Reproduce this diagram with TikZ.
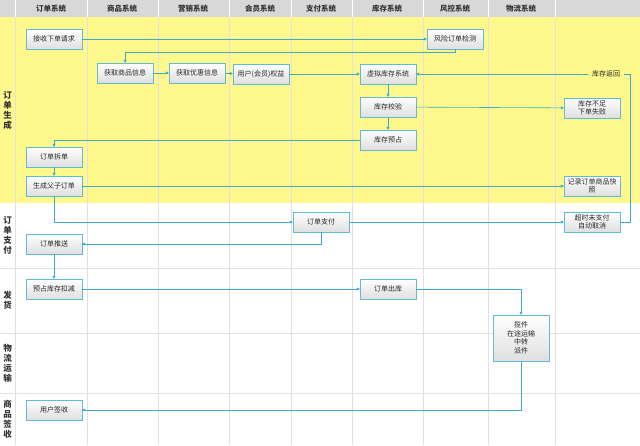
\documentclass[tikz,border=0pt]{standalone}
\usepackage{fontspec}
\setmainfont{Noto Sans CJK SC}
\usetikzlibrary{arrows.meta,positioning,calc}
\definecolor{laneyellow}{RGB}{255,248,140}
\definecolor{headgray}{RGB}{216,216,216}
\definecolor{flowblue}{RGB}{60,170,200}
\definecolor{gridgray}{RGB}{225,225,225}
\begin{document}
\begin{tikzpicture}[
    x=1pt, y=-1pt,
    step box/.style={rectangle, draw=flowblue!80, top color=white, bottom color=gray!25, minimum width=56pt, minimum height=20pt, font=\fontsize{7}{8.5}\selectfont, text=gray!30!black, align=center, inner sep=1pt},
    flow/.style={-{Triangle[length=3pt,width=3pt]}, flowblue, semithick},
    lane/.style={font=\fontsize{7.5}{9}\selectfont\bfseries, text=black!80, align=center}
]
\useasboundingbox (0,0) rectangle (640,445);
% background bands
\fill[laneyellow] (0,17) rectangle (640,203);
\fill[headgray] (0,0) rectangle (640,17);
\foreach \x in {15,87,158,229,291,352,423,488,555}
  \draw[gridgray] (\x,17) -- (\x,445);
\foreach \x in {15,87,158,229,291,352,423,488,555}
  \draw[white] (\x,0) -- (\x,17);
\foreach \y in {268,333,393}
  \draw[gridgray] (0,\y) -- (640,\y);
% column titles
\foreach \cx/\t in {51/订单系统,122/商品系统,193/营销系统,260/会员系统,321/支付系统,387/库存系统,455/风控系统,521/物流系统}
  \node[lane] at (\cx,8.5) {\t};
% lane titles
\node[lane, font=\fontsize{8.5}{10}\selectfont\bfseries] at (7.5,110) {订\\单\\生\\成};
\node[lane, font=\fontsize{8.5}{10}\selectfont\bfseries] at (7.5,235) {订\\单\\支\\付};
\node[lane, font=\fontsize{8.5}{10}\selectfont\bfseries] at (7.5,300) {发\\货};
\node[lane, font=\fontsize{8.5}{10}\selectfont\bfseries] at (7.5,363) {物\\流\\运\\输};
\node[lane, font=\fontsize{8.5}{10}\selectfont\bfseries] at (7.5,419) {商\\品\\签\\收};

% steps
\node[step box] (recv) at (54,39) {接收下单请求};
\node[step box] (risk) at (455,39) {风险订单检测};
\node[step box] (goods) at (125,73) {获取商品信息};
\node[step box] (promo) at (197,73) {获取优惠信息};
\node[step box] (member) at (261,74) {用户(会员)权益};
\node[step box] (vstock) at (388,74) {虚拟库存系统};
\node[font=\fontsize{7}{8.5}\selectfont, text=gray!30!black] (ret) at (606,74) {库存返回};
\node[step box] (check) at (388,107) {库存校验};
\node[step box] (lack) at (592,108) {库存不足\\下单失败};
\node[step box] (hold) at (388,140) {库存预占};
\node[step box] (split) at (54,157) {订单拆单};
\node[step box] (gen) at (54,186) {生成父子订单};
\node[step box] (snap) at (592,186) {记录订单商品快\\照};
\node[step box] (pay) at (321,222) {订单支付};
\node[step box] (timeout) at (592,222) {超时未支付\\自动取消};
\node[step box] (push) at (54,244) {订单推送};
\node[step box] (deduct) at (54,289) {预占库存扣减};
\node[step box] (out) at (388,289) {订单出库};
\node[step box, minimum height=46pt] (ship) at (521,338) {揽件\\在途运输\\中转\\派件};
\node[step box] (sign) at (54,410) {用户签收};

% connectors
\draw[flow] (recv) -- (risk);
\draw[flow] (risk.south) -- ++(0,3) -| (goods.north);
\draw[flow] (goods) -- (promo);
\draw[flow] (promo) -- (member);
\draw[flow] (member) -- (vstock);
\draw[flow] (ret) -- (vstock);
\draw[flowblue, semithick] (timeout.east) -- ++(10,0) |- (ret.east);
\draw[flow] (vstock) -- (check);
\draw[flow] (check) -- (hold);
\draw[flow] (check) -- (lack);
\draw[flow] (hold.west) -| (split.north);
\draw[flow] (split) -- (gen);
\draw[flow] (gen) -- (snap);
\draw[flow] (gen.south) |- (pay.west);
\draw[flow] (pay) -- (timeout);
\draw[flow] (pay.south) |- (push.east);
\draw[flow] (push) -- (deduct);
\draw[flow] (deduct) -- (out);
\draw[flow] (out.east) -| (ship.north);
\draw[flow] (ship.south) |- (sign.east);
\end{tikzpicture}
\end{document}
